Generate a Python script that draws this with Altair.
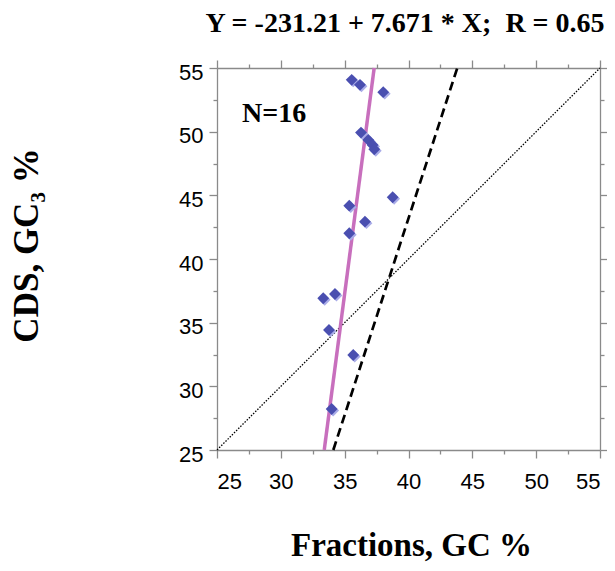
import altair as alt
import pandas as pd

# Data
gc_fraction = [35.55, 36.20, 38.02, 36.28, 36.85, 37.19, 37.32, 38.76,
               35.36, 36.59, 35.36, 33.32, 34.24, 33.77, 35.67, 33.98]
gc3_cds = [54.07, 53.68, 53.10, 49.93, 49.35, 48.96, 48.62, 44.85,
           44.19, 42.93, 42.02, 36.92, 37.25, 34.43, 32.46, 28.22]

intercept = -231.21
slope = 7.671
r_value = 0.65

fit_y = [25, 55]
fit_x = [(v - intercept) / slope for v in fit_y]
dashed_x = [34.11, 43.82]
dashed_y = [25, 55]
diag_vals = [25, 55]
tick_vals = [25 + 2.5 * i for i in range(13)]

pts = pd.DataFrame({"x": gc_fraction, "y": gc3_cds})
fit = pd.DataFrame({"x": fit_x, "y": fit_y})
dashed = pd.DataFrame({"x": dashed_x, "y": dashed_y})
diag = pd.DataFrame({"x": diag_vals, "y": diag_vals})
ntext = pd.DataFrame({"t": [f"N={len(gc_fraction)}"]})
title_text = f"Y = {intercept:.2f} + {slope:.3f} * X;\u00a0 R = {r_value:.2f}"
ttext = pd.DataFrame({"t": [title_text]})

FONT = "Liberation Serif"
LFONT = "Liberation Sans"
GRAY = "#8a8a8a"
xs = alt.Scale(domain=[25, 55], nice=False, zero=False)
ys = alt.Scale(domain=[25, 55], nice=False, zero=False)
tick_size = {"condition": {"test": "datum.value % 5 === 0", "value": 8}, "value": 4}
label_expr = "datum.value % 5 === 0 ? datum.label : ''"

common = dict(values=tick_vals, domainColor=GRAY, tickColor=GRAY, domainWidth=1.3,
              tickWidth=1.3, tickSize=tick_size, grid=False,
              labelFont=LFONT, labelFontSize=22, labelColor="black")

x_bottom = alt.Axis(orient="bottom", labelExpr=label_expr,
                    title="Fractions, GC %", titleFont=FONT, titleFontSize=33,
                    titleFontWeight="bold", titleColor="black", titleX=194, titleY=105,
                    titleBaseline="alphabetic", titleAlign="center", labelPadding=13, **common)
y_left = alt.Axis(orient="left", labelExpr=label_expr,
                  title="CDS, GC\u2083 %", titleFont=FONT, titleFontSize=35,
                  titleFontWeight="bold", titleColor="black", titleX=-180, titleY=177,
                  titleAngle=-90, titleBaseline="alphabetic", titleAlign="center",
                  labelPadding=6, labelBaseline="middle", labelOffset=4, **common)
x_top = alt.Axis(orient="top", labels=False, title=None, **common)
y_right = alt.Axis(orient="right", labels=False, title=None, **common)

diag_layer = alt.Chart(diag).mark_line(color="black", strokeWidth=1.3, strokeDash=[1.5, 1.5]).encode(
    x=alt.X("x:Q", scale=xs, axis=x_top), y=alt.Y("y:Q", scale=ys, axis=y_right))
dashed_layer = alt.Chart(dashed).mark_line(color="black", strokeWidth=2.7, strokeDash=[9, 5]).encode(
    x=alt.X("x:Q", scale=xs, axis=None), y=alt.Y("y:Q", scale=ys, axis=None))
fit_layer = alt.Chart(fit).mark_line(color="#c86fbd", strokeWidth=3.5).encode(
    x=alt.X("x:Q", scale=xs, axis=None), y=alt.Y("y:Q", scale=ys, axis=None))
shadow_layer = alt.Chart(pts).mark_point(shape="diamond", filled=True, color="#a9ace8", size=140,
                                         opacity=1, xOffset=1.5, yOffset=1.5).encode(
    x=alt.X("x:Q", scale=xs, axis=None), y=alt.Y("y:Q", scale=ys, axis=None))
point_layer = alt.Chart(pts).mark_point(shape="diamond", filled=True, color="#4a4fb0", size=140,
                                        opacity=1).encode(
    x=alt.X("x:Q", scale=xs, axis=x_bottom), y=alt.Y("y:Q", scale=ys, axis=y_left))
text_layer = alt.Chart(ntext).mark_text(font=FONT, fontSize=28, fontWeight="bold", color="black",
                                        align="left", baseline="alphabetic").encode(
    text="t:N", x=alt.value(25), y=alt.value(54))
title_layer = alt.Chart(ttext).mark_text(font=FONT, fontSize=28, fontWeight="bold", color="black",
                                         align="center", baseline="alphabetic").encode(
    text="t:N", x=alt.value(188), y=alt.value(-36.5))

chart = alt.layer(diag_layer, dashed_layer, fit_layer, shadow_layer, point_layer,
                  text_layer, title_layer).resolve_scale(
    x="shared", y="shared").resolve_axis(x="independent", y="independent").properties(
    width=383, height=382,
    autosize=alt.AutoSizeParams(type="none"),
    padding={"left": 209, "top": 60, "right": 7, "bottom": 113},
    background="white",
).configure_view(stroke=None)

chart.save("out.html", embed_options={"renderer": "svg", "actions": False})
